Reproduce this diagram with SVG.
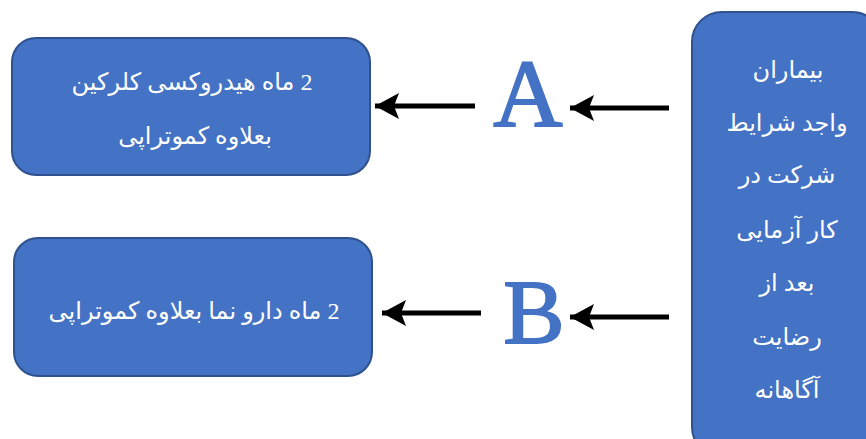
<svg xmlns="http://www.w3.org/2000/svg" width="866" height="439" viewBox="0 0 866 439">
<style>
.box{fill:#4472C4;stroke:#2F528F;stroke-width:2}
.t{fill:#ffffff;font-family:"Liberation Serif","DejaVu Sans",serif;font-size:24px;text-anchor:middle;direction:rtl;unicode-bidi:embed}
.big{fill:#4472C4;stroke:#4472C4;stroke-width:1.8;font-family:"Liberation Serif",serif;text-anchor:middle}
.arr{stroke:#000;stroke-width:5;fill:none;marker-end:url(#ah)}
</style>
<defs>
<marker id="ah" markerUnits="userSpaceOnUse" markerWidth="26" markerHeight="26" refX="24" refY="13" orient="auto">
<path d="M0,0 L24,13 L0,26 L5,13 Z" fill="#000"/>
</marker>
</defs>
<rect width="866" height="439" fill="#fff"/>
<g id="nodeA">
<rect class="box" x="12" y="38" width="358" height="137" rx="24"/>
<text class="t" x="192" y="90">2 ماه هیدروکسی کلرکین</text>
<text class="t" x="195" y="144">بعلاوه کموتراپی</text>
</g>
<g id="nodeB">
<rect class="box" x="14" y="238" width="358" height="138" rx="24"/>
<text class="t" x="194" y="319">2 ماه دارو نما بعلاوه کموتراپی</text>
</g>
<g id="nodeP">
<rect class="box" x="692" y="12" width="190" height="445" rx="30"/>
<text class="t" x="788" y="78">بیماران</text>
<text class="t" x="787" y="131">واجد شرایط</text>
<text class="t" x="787" y="183">شرکت در</text>
<text class="t" x="787" y="238">کار آزمایی</text>
<text class="t" x="787" y="291">بعد از</text>
<text class="t" x="787" y="345">رضایت</text>
<text class="t" x="787" y="398">آگاهانه</text>
</g>
<g id="labelA"><text class="big" x="528" y="126" font-size="96">A</text></g>
<g id="labelB"><text class="big" x="534" y="343" font-size="92">B</text></g>
<g id="connectors">
<line class="arr" x1="475" y1="106" x2="375" y2="106"/>
<line class="arr" x1="669" y1="108" x2="570" y2="108"/>
<line class="arr" x1="481" y1="313" x2="382" y2="313"/>
<line class="arr" x1="669" y1="317" x2="570" y2="317"/>
</g>
</svg>
